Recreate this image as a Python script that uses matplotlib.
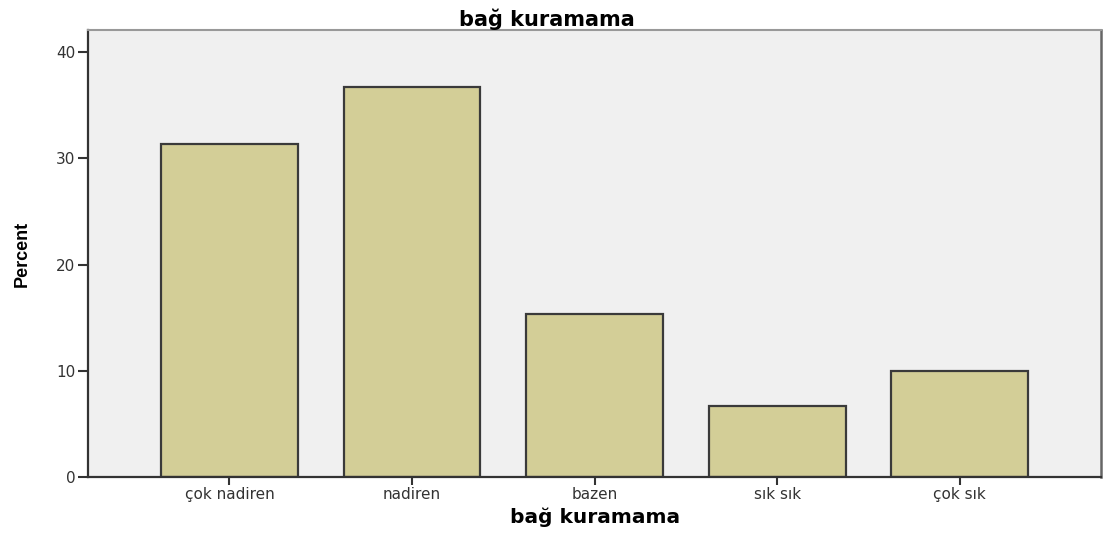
import matplotlib.pyplot as plt
import numpy as np

plt.rcParams['font.family'] = ['DejaVu Sans']

categories = ['çok nadiren', 'nadiren', 'bazen', 'sık sık', 'çok sık']
percent = [31.3, 36.7, 15.3, 6.7, 10.0]
yticks = [0, 10, 20, 30, 40]

fig = plt.figure(figsize=(11.05, 5.34), dpi=100)
ax = fig.add_axes([0.0796, 0.1067, 0.917, 0.8371])
ax.set_facecolor('#f0f0f0')

x = np.arange(len(categories))
ax.bar(x, percent, width=0.75, color='#d3ce97', edgecolor='#3a3a3a', linewidth=1.6, zorder=2)

ax.set_xlim(-0.775, 4.775)
ax.set_ylim(0, 42.07)
ax.set_yticks(yticks)
ax.set_xticks(x)
ax.set_xticklabels(categories, fontsize=11, color='#222222')
ax.tick_params(axis='y', length=7, width=1.5, labelsize=11, pad=2, colors='#333333')
ax.tick_params(axis='x', length=6, width=1.5, pad=1, colors='#333333')

for s in ['left', 'bottom']:
    ax.spines[s].set_color('#333333')
    ax.spines[s].set_linewidth(1.6)
ax.spines['top'].set_color('#999999')
ax.spines['top'].set_linewidth(1.5)
ax.spines['right'].set_color('#666666')
ax.spines['right'].set_linewidth(1.8)

ax.set_title('bağ kuramama', fontsize=15, fontweight='bold', x=0.453, pad=3)
ax.set_xlabel('bağ kuramama', fontsize=14.5, fontweight='bold', labelpad=4)
ax.set_ylabel('Percent', fontsize=13, fontweight='heavy', labelpad=18,
              family=['Liberation Sans'])

fig.savefig('out.png', dpi=100)
